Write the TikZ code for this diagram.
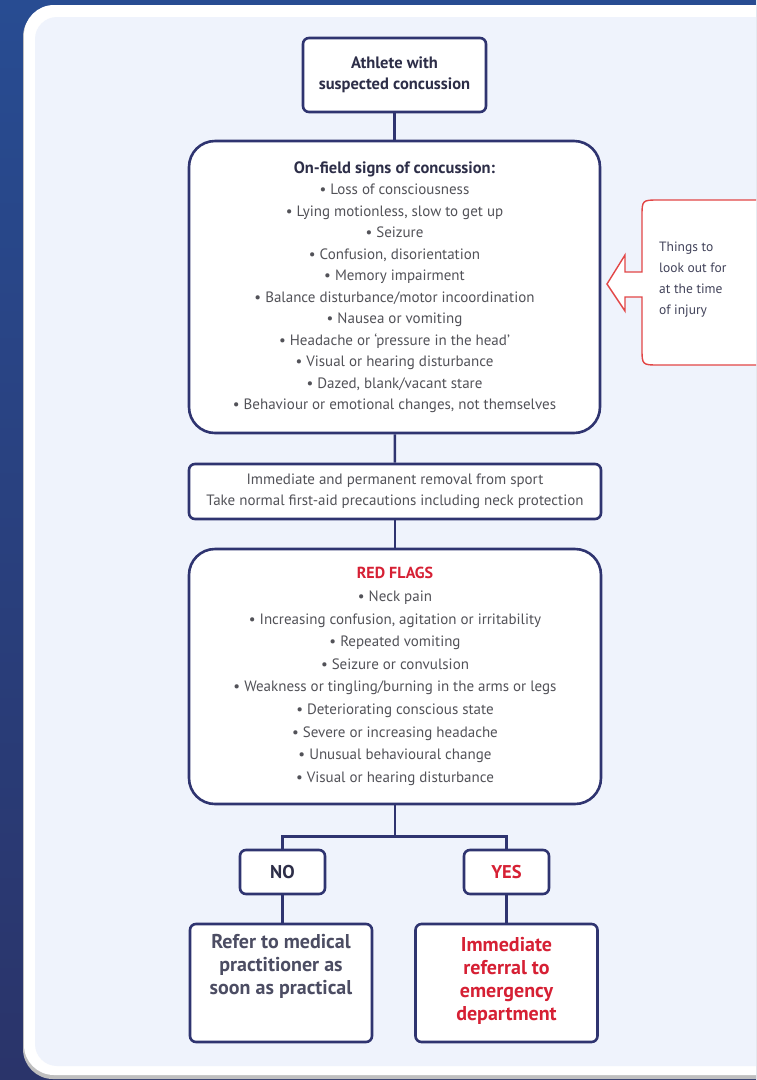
\documentclass[tikz,border=0pt]{standalone}
\usepackage{fontspec}
\setmainfont{PT Sans}
\usetikzlibrary{positioning}

\definecolor{boxnavy}{RGB}{47,52,112}
\definecolor{textgray}{RGB}{82,82,88}
\definecolor{headgray}{RGB}{45,46,72}
\definecolor{flagred}{RGB}{214,32,52}
\definecolor{calloutred}{RGB}{226,70,70}
\definecolor{panel}{RGB}{239,243,252}
\definecolor{bgtop}{RGB}{40,76,146}
\definecolor{bgbottom}{RGB}{42,52,106}

\tikzset{
  flowbox/.style={draw=boxnavy, line width=2.6pt, fill=white, rounded corners=6pt,
    inner sep=0pt, align=center, text=textgray, font=\fontsize{15}{21.5}\selectfont},
  bigbox/.style={flowbox, rounded corners=26pt},
  answer/.style={flowbox, minimum width=85, minimum height=44, font=\fontsize{18.5}{20}\selectfont\bfseries},
  outcome/.style={flowbox, minimum width=182, minimum height=118},
  outtext/.style={align=center, inner sep=0pt, font=\fontsize{20}{23}\selectfont\bfseries},
  link/.style={draw=boxnavy, line width=2.6pt},
}

\begin{document}
\begin{tikzpicture}[x=1pt,y=-1pt]
\useasboundingbox (0,0) rectangle (756,1080);
\clip (0,0) rectangle (756,1080);
% backdrop and card
\shade[top color=bgtop, bottom color=bgbottom] (0,0) rectangle (756,1080);
\fill[black!25, rounded corners=30pt] (23,7) rectangle (800,1079);
\fill[white, rounded corners=30pt] (24,5) rectangle (800,1075);
\fill[panel, rounded corners=22pt] (35,17) rectangle (800,1066);

% main column
\node[flowbox, minimum width=183, minimum height=74, text=headgray,
  font=\fontsize{16.5}{21}\selectfont\bfseries] (athlete) at (394.5,75)
  {Athlete with\\suspected concussion};

\node[bigbox, minimum width=411, minimum height=292] (signs) at (394.5,287)
  {{\fontsize{16.5}{21.5}\selectfont\bfseries\color{headgray}On-field signs of concussion:}\\
   \textbullet\ Loss of consciousness\\
   \textbullet\ Lying motionless, slow to get up\\
   \textbullet\ Seizure\\
   \textbullet\ Confusion, disorientation\\
   \textbullet\ Memory impairment\\
   \textbullet\ Balance disturbance/motor incoordination\\
   \textbullet\ Nausea or vomiting\\
   \textbullet\ Headache or ‘pressure in the head’\\
   \textbullet\ Visual or hearing disturbance\\
   \textbullet\ Dazed, blank/vacant stare\\
   \textbullet\ Behaviour or emotional changes, not themselves};

\node[flowbox, minimum width=412, minimum height=55] (removal) at (395,491.5)
  {Immediate and permanent removal from sport\\
   Take normal first-aid precautions including neck protection};

\node[bigbox, minimum width=412, minimum height=255,
  font=\fontsize{15}{22.6}\selectfont] (flags) at (395,676.5)
  {{\fontsize{16}{22.6}\selectfont\bfseries\color{flagred}RED FLAGS}\\
   \textbullet\ Neck pain\\
   \textbullet\ Increasing confusion, agitation or irritability\\
   \textbullet\ Repeated vomiting\\
   \textbullet\ Seizure or convulsion\\
   \textbullet\ Weakness or tingling/burning in the arms or legs\\
   \textbullet\ Deteriorating conscious state\\
   \textbullet\ Severe or increasing headache\\
   \textbullet\ Unusual behavioural change\\
   \textbullet\ Visual or hearing disturbance};

% decision
\node[answer, text=headgray] (nobox) at (282.5,872) {NO};
\node[answer, text=flagred] (yesbox) at (506.5,872) {YES};

\node[outcome] (refer) at (281,983) {};
\node[outtext, anchor=north, text=headgray!85] (refertxt) at (281,934)
  {Refer to medical\\practitioner as\\soon as practical};
\node[outcome] (emergency) at (506.5,983) {};
\node[outtext, text=flagred] (emergtxt) at (506.5,981)
  {Immediate\\referral to\\emergency\\department};

\coordinate (split) at ([yshift=-31pt]flags.south);
\draw[link] (athlete) -- (signs);
\draw[link] (signs) -- (removal);
\draw[link] (removal) -- (flags);
\draw[link] (flags.south) -- (split);
\draw[link] (nobox.north) |- (split) -| (yesbox.north);
\draw[link] (nobox.south) -- (nobox.south |- refer.north);
\draw[link] (yesbox.south) -- (yesbox.south |- emergency.north);

% side callout
\draw[calloutred, line width=1.4pt, fill=white]
  (800,200) -- (659,200) .. controls (642,200) .. (642,217) -- (642,272)
  -- (625,272) -- (625,255) -- (607,284) -- (625,311) -- (625,297) -- (642,297)
  -- (642,348) .. controls (642,365) .. (659,365) -- (800,365);
\node[anchor=west, align=left, inner sep=0pt, text=headgray!90,
  font=\fontsize{13.5}{21}\selectfont] (lookout) at (659,280)
  {Things to\\look out for\\at the time\\of injury};
\end{tikzpicture}
\end{document}
